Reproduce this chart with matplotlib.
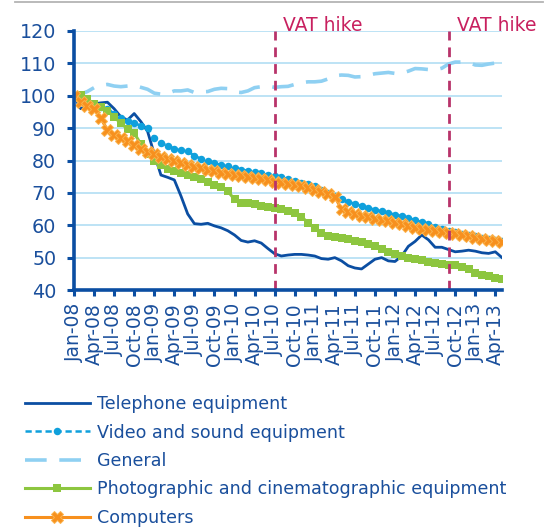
import matplotlib
matplotlib.use("Agg")
import matplotlib.pyplot as plt
from matplotlib.lines import Line2D
import numpy as np

# ---------------- data ----------------
start_year = 2008
n_months = 65  # Jan-08 .. May-13

tick_labels = ["Jan-08", "Apr-08", "Jul-08", "Oct-08", "Jan-09", "Apr-09", "Jul-09",
               "Oct-09", "Jan-10", "Apr-10", "Jul-10", "Oct-10", "Jan-11", "Apr-11",
               "Jul-11", "Oct-11", "Jan-12", "Apr-12", "Jul-12", "Oct-12", "Jan-13",
               "Apr-13"]

telephone = [100, 96, 97, 97.5, 97.8, 98, 96, 93.5, 92.5, 94.5, 92, 89, 82, 75.5, 74.8,
             74, 69, 63.5, 60.5, 60.3, 60.6, 59.8, 59.2, 58.3, 57, 55.3, 54.8, 55.2, 54.5,
             52.8, 51.2, 50.5, 50.8, 51, 51, 50.8, 50.5, 49.7, 49.5, 50, 49, 47.5, 46.8,
             46.5, 48, 49.5, 50, 49, 48.8, 50.5, 53.5, 55, 57, 55.5, 53.2, 53.2, 52.5,
             51.8, 52, 52.3, 52, 51.5, 51.3, 51.8, 50]

video_sound = [100, 98.5, 97.5, 97, 96.5, 96, 94.5, 93.2, 92.3, 91.5, 90.8, 90, 87,
               85.5, 84.5, 83.7, 83.2, 82.8, 81.5, 80.5, 79.8, 79.2, 78.6, 78.2, 77.6,
               77.2, 76.8, 76.4, 76, 75.5, 75.2, 74.8, 74.3, 73.8, 73.2, 72.6, 72, 71,
               70, 69, 68, 67.3, 66.6, 66, 65.4, 64.8, 64.3, 63.8, 63.3, 62.8, 62.3, 61.6,
               61, 60.5, 59.5, 58.7, 58.2, 57.8, 57.4, 57, 56.6, 56.2, 55.8, 55.4, 55]

general = [100, 100.5, 101.3, 102.5, 103.2, 103.5, 103, 102.8, 103, 103.2, 102.6, 102,
           100.8, 100.5, 100.7, 101.5, 101.5, 101.8, 101, 101.2, 101.3, 102, 102.3, 102.2,
           101.2, 101, 101.5, 102.5, 102.8, 103, 102.6, 102.8, 102.9, 103.5, 104, 104.3,
           104.3, 104.5, 105.2, 106.2, 106.4, 106.3, 105.8, 105.9, 106.3, 106.8, 107, 107.2,
           106.9, 107, 107.6, 108.4, 108.3, 108.1, 108, 108.5, 109.8, 110.4, 110.4, 110.3,
           109.5, 109.4, 109.8, 110.1, 110.2]

photographic = [100, 100.3, 99, 97.5, 96.5, 95.2, 93.5, 91.5, 89.8, 88.5, 85, 82, 80,
                78.5, 77.5, 76.8, 76, 75.4, 74.8, 74.2, 73.3, 72.5, 71.8, 70.5, 68, 67,
                66.8, 66.5, 65.9, 65.6, 65.4, 65, 64.5, 63.8, 62.6, 60.8, 59, 57.5, 56.8,
                56.5, 56.2, 55.7, 55.2, 54.8, 54.2, 53.6, 52.8, 51.8, 51, 50.6, 50, 49.6,
                49.2, 48.5, 48.2, 47.9, 47.8, 47.6, 47.2, 46.5, 45.3, 44.6, 44.2, 43.8, 43.5]

computers = [100, 98, 96.8, 96, 93, 89.5, 88, 87, 86, 84.8, 83.5, 82.5, 82, 81.2, 80.5,
             79.8, 79.2, 78.6, 78.1, 77.6, 77.1, 76.7, 76.2, 75.9, 75.5, 75.2, 74.9, 74.6,
             74.3, 74, 73.5, 73.1, 72.8, 72.5, 72, 71.5, 71, 70.3, 69.8, 68.8, 65, 64.2,
             63.6, 63, 62.5, 62, 61.6, 61.2, 60.8, 60.3, 59.8, 59.2, 58.8, 58.5, 58.2,
             57.9, 57.6, 57.3, 56.9, 56.6, 56.2, 55.6, 55.3, 55, 54.8]

series_names = ["Telephone equipment", "Video and sound equipment", "General",
                "Photographic and cinematographic equipment", "Computers"]

vat_months = ["Jul-10", "Sep-12"]
vat_label = "VAT hike"

# ---------------- style ----------------
C_TEXT = "#1a4f9c"
C_AXIS = "#0b4ea2"
C_GRID = "#bde3f5"
C_TEL = "#0b4ea2"
C_VID = "#0fa0dc"
C_GEN = "#8fd0f2"
C_PHO = "#8dc63f"
C_COM = "#f7901e"
C_VAT = "#b8336a"
C_VATT = "#c8205f"

plt.rcParams["font.family"] = ["DejaVu Sans"]

fig = plt.figure(figsize=(5.54, 5.32), dpi=100)
ax = fig.add_axes([74 / 554, 1 - 290 / 532, (502 - 74) / 554, (290 - 31) / 532])

x = np.arange(n_months)
month_names = ["Jan", "Feb", "Mar", "Apr", "May", "Jun", "Jul", "Aug", "Sep", "Oct", "Nov", "Dec"]
all_labels = [f"{month_names[i % 12]}-{(start_year + i // 12) % 100:02d}" for i in range(n_months)]

h_tel, = ax.plot(x, telephone, color=C_TEL, lw=2.0, solid_joinstyle="round", zorder=3)
h_vid, = ax.plot(x, video_sound, color=C_VID, lw=1.8, ls=(0, (2.5, 1.5)), marker="o",
                 markersize=5.4, markeredgewidth=0, zorder=4)
h_gen, = ax.plot(x, general, color=C_GEN, lw=2.6, ls=(0, (6, 3.5)), zorder=5)
h_pho, = ax.plot(x, photographic, color=C_PHO, lw=2.2, marker="s", markersize=6.2,
                 markeredgewidth=0, zorder=6)
h_com, = ax.plot(x, computers, color=C_COM, lw=2.2, marker="X", markersize=9,
                 markerfacecolor=C_COM, markeredgecolor="#fbb34c", markeredgewidth=0.7,
                 zorder=7)

# VAT hike lines
for m in vat_months:
    xi = all_labels.index(m)
    ax.axvline(xi, color=C_VAT, lw=2.0, ls=(0, (3.5, 2.5)), zorder=8, clip_on=False)
    ax.text(xi + 1.2, 120.0, vat_label, color=C_VATT, fontsize=13.5, ha="left",
            va="baseline", clip_on=False)

ax.set_xlim(0, n_months - 1)
ax.set_ylim(40, 120)
ax.set_yticks(np.arange(40, 121, 10))
tick_pos = [all_labels.index(t) for t in tick_labels]
ax.set_xticks(tick_pos)
ax.set_xticklabels(tick_labels, rotation=90, fontsize=13.5, color=C_TEXT)
ax.tick_params(axis="y", labelsize=13.8, labelcolor=C_TEXT, color=C_AXIS, width=2.2,
               length=4.8, pad=8, direction="out")
ax.tick_params(axis="x", color=C_AXIS, width=2.2, length=4.5, pad=5, direction="out")

ax.grid(axis="y", color=C_GRID, lw=1.4, zorder=0)
ax.set_axisbelow(True)
for s in ["top", "right"]:
    ax.spines[s].set_visible(False)
for s in ["left", "bottom"]:
    ax.spines[s].set_color(C_AXIS)
    ax.spines[s].set_linewidth(2.6)
    ax.spines[s].set_zorder(9)

# top grey rule
fig.add_artist(Line2D([15 / 554, 543 / 554], [1 - 1.5 / 532, 1 - 1.5 / 532],
                      color="#b4b4b4", lw=1.3))

leg = fig.legend([h_tel, h_vid, h_gen, h_pho, h_com], series_names,
                 loc="upper left", bbox_to_anchor=(25 / 554, 1 - 395 / 532),
                 frameon=False, fontsize=12.6, handlelength=3.7, handletextpad=0.4,
                 labelspacing=0.6, borderpad=0, borderaxespad=0, numpoints=1,
                 labelcolor=C_TEXT)

fig.savefig("out.png", dpi=100)
